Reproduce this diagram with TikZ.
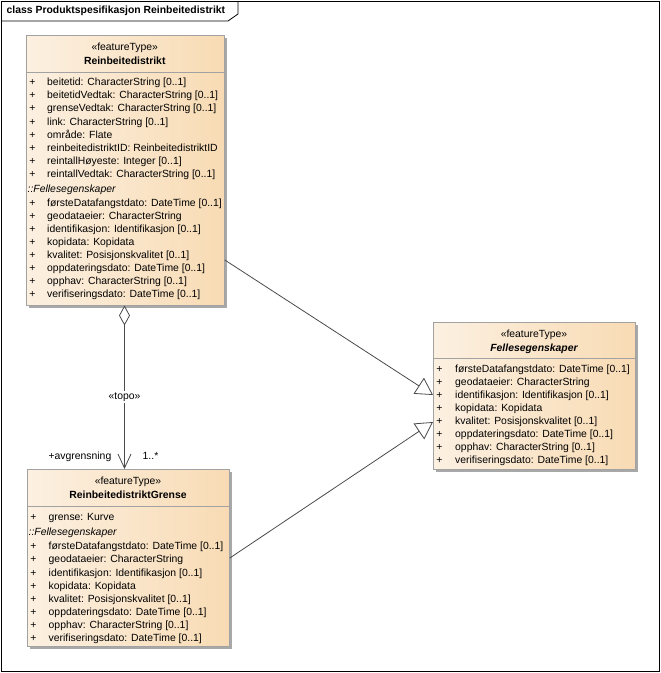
\documentclass[tikz,border=0pt]{standalone}
\usepackage{fontspec}
\setmainfont{Liberation Sans}
\usetikzlibrary{arrows.meta}
\usetikzlibrary{positioning}

\definecolor{classleft}{HTML}{FCF0E1}
\definecolor{classright}{HTML}{F8DBB4}
\definecolor{classline}{HTML}{A2A2A2}
\definecolor{shadowgray}{HTML}{A8A8A8}
\definecolor{linkgray}{HTML}{4A4A4A}

\newcommand{\fellesliste}{{førsteDatafangstdato: DateTime [0..1]},{geodataeier: CharacterString},{identifikasjon: Identifikasjon [0..1]},{kopidata: Kopidata},{kvalitet: Posisjonskvalitet [0..1]},{oppdateringsdato: DateTime [0..1]},{opphav: CharacterString [0..1]},{verifiseringsdato: DateTime [0..1]}}

\tikzset{
	classbox/.style={draw=classline, line width=0.8pt, left color=classleft, right color=classright,
		anchor=north west, inner sep=0pt,
		preaction={fill=shadowgray, transform canvas={shift={(3pt,-3pt)}}}},
	txt/.style={inner sep=0pt, text height=7.5pt, text depth=2pt, font=\fontsize{10.4}{12}\selectfont},
	attr/.style={txt, anchor=west},
	plus/.style={txt},
	stereo/.style={txt},
	cname/.style={txt, font=\fontsize{10.4}{12}\selectfont\bfseries},
	sep/.style={draw=classline, line width=0.8pt},
	link/.style={draw=linkgray, line width=0.8pt},
}

\begin{document}
\begin{tikzpicture}[x=1pt, y=-1pt]
	\useasboundingbox (0,0) rectangle (661,673);

	% ramme og tittel
	\draw[line width=0.8pt] (1,1) rectangle (659.5,671.5);
	\draw[line width=0.8pt] (1,21) -- (228,21) -- (238,14) -- (238,1);
	\node[cname, anchor=west] (tittel) at (6.5,11) {class Produktspesifikasjon Reinbeitedistrikt};

	% Reinbeitedistrikt
	\node[classbox, minimum width=198.5pt, minimum height=270pt] (rbd) at (25.5,35) {};
	\node[stereo] (rbdst) at (124.75,48) {«featureType»};
	\node[cname] (rbdnavn) at (124.75,62) {Reinbeitedistrikt};
	\draw[sep] (rbd.west |- 0,72) -- (rbd.east |- 0,72);
	\foreach \t [count=\i from 0] in {{beitetid: CharacterString [0..1]},{beitetidVedtak: CharacterString [0..1]},{grenseVedtak: CharacterString [0..1]},{link: CharacterString [0..1]},{område: Flate},{reinbeitedistriktID: ReinbeitedistriktID},{reintallHøyeste: Integer [0..1]},{reintallVedtak: CharacterString [0..1]}} {
		\node[plus] (rbdp\i) at (32.5,{83+13.1*\i}) {+};
		\node[attr] (rbda\i) at (47,{83+13.1*\i}) {\t};
	}
	\node[attr] (rbdarv) at (27.5,190) {\itshape ::Fellesegenskaper};
	\foreach \t [count=\i from 0] in \fellesliste {
		\node[plus] (rbdfp\i) at (32.5,{203.3+13.1*\i}) {+};
		\node[attr] (rbdf\i) at (47,{203.3+13.1*\i}) {\t};
	}

	% Fellesegenskaper
	\node[classbox, minimum width=202pt, minimum height=147pt] (fel) at (433,322) {};
	\node[stereo] (felst) at (534,335) {«featureType»};
	\node[cname] (felnavn) at (534,349) {\itshape Fellesegenskaper};
	\draw[sep] (fel.west |- 0,358.5) -- (fel.east |- 0,358.5);
	\foreach \t [count=\i from 0] in \fellesliste {
		\node[plus] (felp\i) at (439.5,{369.3+13.1*\i}) {+};
		\node[attr] (fela\i) at (455,{369.3+13.1*\i}) {\t};
	}

	% ReinbeitedistriktGrense
	\node[classbox, minimum width=202pt, minimum height=177pt] (grz) at (27,469) {};
	\node[stereo] (grzst) at (128,482) {«featureType»};
	\node[cname] (grznavn) at (128,496) {ReinbeitedistriktGrense};
	\draw[sep] (grz.west |- 0,506) -- (grz.east |- 0,506);
	\node[plus] (grzp) at (33.5,518) {+};
	\node[attr] (grza) at (48.5,518) {grense: Kurve};
	\node[attr] (grzarv) at (28.5,533) {\itshape ::Fellesegenskaper};
	\foreach \t [count=\i from 0] in \fellesliste {
		\node[plus] (grzfp\i) at (33.5,{547+13.15*\i}) {+};
		\node[attr] (grzf\i) at (48.5,{547+13.15*\i}) {\t};
	}

	% aggregering
	\coordinate (aggtopp) at (124.5,305.5);
	\draw[link, {Diamond[open, length=20pt, width=11pt, fill=white]}-{Straight Barb[length=14pt, width=13pt]}]
		(aggtopp) -- (aggtopp |- grz.north)
		node[pos=0.56, fill=white, txt, inner sep=1pt] (topo) {«topo»};
	\node[txt, anchor=east] (rolle) at (111.5,457) {+avgrensning};
	\node[txt, anchor=west] (mult) at (142.5,457) {1..*};

	% generalisering
	\draw[link, -{Triangle[open, length=17pt, width=19pt, fill=white]}] (rbd.east |- 0,260) -- (fel.west |- 0,395);
	\draw[link, -{Triangle[open, length=17pt, width=19pt, fill=white]}] (grz.east |- 0,558) -- (fel.west |- 0,422);
\end{tikzpicture}
\end{document}
